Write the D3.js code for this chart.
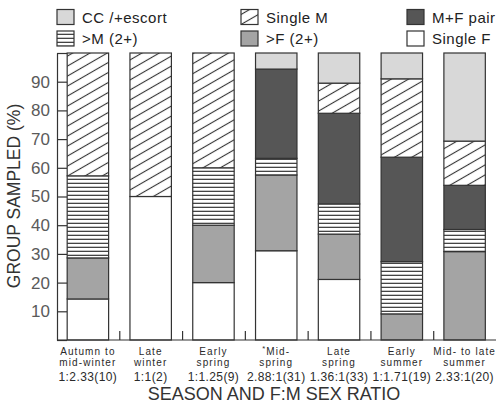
<!DOCTYPE html>
<html>
<head>
<meta charset="utf-8">
<script src="https://cdn.jsdelivr.net/npm/d3@7"></script>
<style>
  html, body { margin: 0; padding: 0; background: #fff; }
  svg { display: block; font-family: "Liberation Sans", Arial, Helvetica, sans-serif; }
</style>
</head>
<body>
<svg id="chart" width="496" height="405"></svg>
<script>
// Seasons (two label lines) and F:M sex ratio with sample size
const seasonLine1 = ["Autumn to", "Late", "Early", "Mid-", "Late", "Early", "Mid- to late"];
const seasonLine2 = ["mid-winter", "winter", "spring", "spring", "spring", "summer", "summer"];
const sexRatio = ["1:2.33(10)", "1:1(2)", "1:1.25(9)", "2.88:1(31)", "1.36:1(33)", "1:1.71(19)", "2.33:1(20)"];
const starred = [false, false, false, true, false, false, false];

// Percent of groups sampled, per group type (bottom to top of each bar)
const singleF = [14.3, 50, 20, 31.1, 21.1, 0, 0];
const multiF  = [14.3, 0, 20, 26.4, 15.8, 9.1, 30.8];
const multiM  = [28.6, 0, 20, 5.8, 10.5, 18.2, 7.7];
const mfPair  = [0, 0, 0, 31.1, 31.6, 36.4, 15.4];
const singleM = [42.8, 50, 40, 0, 10.5, 27.3, 15.4];
const ccEscort = [0, 0, 0, 5.6, 10.5, 9.0, 30.7];

const yTicks = [0, 10, 20, 30, 40, 50, 60, 70, 80, 90, 100];
const yTickLabels = ["", "10", "20", "30", "40", "50", "60", "70", "80", "90", ""];

const groupKeys = ["singleF", "multiF", "multiM", "pair", "singleM", "cc"];
const legendNames = {
  cc: "CC /+escort", singleM: "Single M", pair: "M+F pair",
  multiM: ">M (2+)", multiF: ">F (2+)", singleF: "Single F"
};

const rows = seasonLine1.map((s, i) => ({
  idx: i,
  singleF: singleF[i], multiF: multiF[i], multiM: multiM[i],
  pair: mfPair[i], singleM: singleM[i], cc: ccEscort[i]
}));

const svg = d3.select("#chart");
const ink = "#333";

// Fill patterns
const defs = svg.append("defs");
const diag = defs.append("pattern")
  .attr("id", "hatchDiag").attr("patternUnits", "userSpaceOnUse")
  .attr("width", 12).attr("height", 8.66)
  .attr("patternTransform", "rotate(-30)");
diag.append("rect").attr("width", 12).attr("height", 8.66).attr("fill", "#fff");
diag.append("line").attr("x1", 0).attr("x2", 12).attr("y1", 4.33).attr("y2", 4.33)
  .attr("stroke", "#333").attr("stroke-width", 1.1);

const horiz = defs.append("pattern")
  .attr("id", "hatchHoriz").attr("patternUnits", "userSpaceOnUse")
  .attr("width", 8).attr("height", 4);
horiz.append("rect").attr("width", 8).attr("height", 4).attr("fill", "#fff");
horiz.append("rect").attr("x", 0).attr("y", 2.7).attr("width", 8).attr("height", 1.3).attr("fill", "#444");

const fills = {
  cc: "#d8d8d8",
  singleM: "url(#hatchDiag)",
  pair: "#565656",
  multiM: "url(#hatchHoriz)",
  multiF: "#a4a4a4",
  singleF: "#ffffff"
};

// Scales
const x = d3.scaleBand()
  .domain(rows.map(d => d.idx))
  .range([56.5, 496])
  .paddingInner(0.34)
  .paddingOuter(0.17);
const y = d3.scaleLinear().domain([0, 100]).range([340, 53]);

// Stacked bars
const stacked = d3.stack().keys(groupKeys)(rows);
const layers = svg.append("g").attr("class", "bars");
stacked.forEach(layer => {
  layers.append("g")
    .selectAll("rect")
    .data(layer.filter(d => d[1] - d[0] > 0))
    .join("rect")
    .attr("x", d => x(d.data.idx))
    .attr("width", x.bandwidth())
    .attr("y", d => y(d[1]))
    .attr("height", d => y(d[0]) - y(d[1]))
    .attr("fill", fills[layer.key])
    .attr("stroke", ink)
    .attr("stroke-width", 1.2);
});

// Y axis: ticks point inward, labels outside
const yAxis = d3.axisLeft(y)
  .tickValues(yTicks)
  .tickFormat((d, i) => yTickLabels[i])
  .tickSize(-10)
  .tickSizeOuter(0)
  .tickPadding(7);
const gy = svg.append("g").attr("transform", "translate(57,0)").call(yAxis);
gy.select(".domain").attr("stroke", ink).attr("stroke-width", 1.2);
gy.selectAll(".tick line").attr("stroke", ink).attr("stroke-width", 1.2);
gy.selectAll(".tick text")
  .attr("font-size", 17).attr("fill", "#5a5a5a")
  .attr("font-family", "Liberation Sans, Arial, sans-serif");

// X axis: baseline with short separators between seasons
const step = x.step();
const x0 = x.range()[0];
const sep = d3.scaleLinear().domain([0, 7]).range([x0, x0 + 7 * step]);
const xAxis = d3.axisBottom(sep)
  .tickValues([1, 2, 3, 4, 5, 6])
  .tickFormat("")
  .tickSize(-9)
  .tickSizeOuter(0);
const gx = svg.append("g").attr("transform", "translate(0,340)").call(xAxis);
gx.select(".domain").attr("d", `M57,0H${x.range()[1]}`).attr("stroke", ink).attr("stroke-width", 1.2);
gx.selectAll(".tick line").attr("stroke", ink).attr("stroke-width", 1.2);

// Category labels
const lab = svg.append("g").attr("fill", "#2a2a2a").attr("text-anchor", "middle");
rows.forEach((d, i) => {
  const cx = x(d.idx) + x.bandwidth() / 2;
  const t1 = lab.append("text").attr("x", cx).attr("y", 354.5)
    .attr("font-size", 10).attr("letter-spacing", 1.1);
  if (starred[i]) {
    t1.append("tspan").attr("font-size", 7.5).attr("dy", -3.5).text("*");
    t1.append("tspan").attr("dy", 3.5).text(seasonLine1[i]);
  } else {
    t1.text(seasonLine1[i]);
  }
  lab.append("text").attr("x", cx).attr("y", 365.8)
    .attr("font-size", 10).attr("letter-spacing", 1.1).text(seasonLine2[i]);
  lab.append("text").attr("x", cx).attr("y", 381)
    .attr("font-size", 12).attr("letter-spacing", 0.4).text(sexRatio[i]);
});

// Axis titles
svg.append("text")
  .attr("x", 274).attr("y", 400)
  .attr("text-anchor", "middle").attr("font-size", 18).attr("fill", "#333")
  .text("SEASON AND F:M SEX RATIO");
svg.append("text")
  .attr("transform", "translate(20,196) rotate(-90)")
  .attr("text-anchor", "middle").attr("font-size", 17.5).attr("fill", "#333")
  .text("GROUP SAMPLED (%)");

// Legend
const legendItems = [
  { key: "cc", col: 0, row: 0 }, { key: "singleM", col: 1, row: 0 }, { key: "pair", col: 2, row: 0 },
  { key: "multiM", col: 0, row: 1 }, { key: "multiF", col: 1, row: 1 }, { key: "singleF", col: 2, row: 1 }
];
const colX = [57, 241, 407];
const rowY = [9.5, 31];
const lg = svg.append("g");
legendItems.forEach(it => {
  const g = lg.append("g").attr("transform", `translate(${colX[it.col]},${rowY[it.row]})`);
  g.append("rect").attr("width", 17).attr("height", 15)
    .attr("fill", fills[it.key]).attr("stroke", ink).attr("stroke-width", 1.2);
  g.append("text").attr("x", 25).attr("y", 13.2)
    .attr("font-size", 15).attr("letter-spacing", 0.5).attr("fill", "#222")
    .text(legendNames[it.key]);
});
</script>
</body>
</html>
